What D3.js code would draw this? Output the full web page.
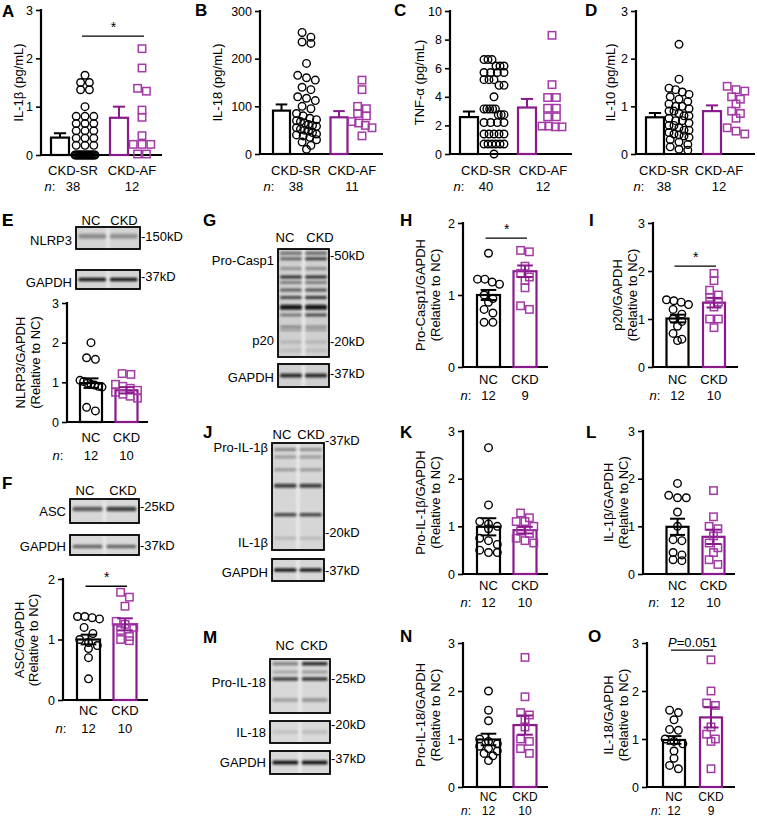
<!DOCTYPE html>
<html><head><meta charset="utf-8">
<script src="https://cdn.jsdelivr.net/npm/d3@7"></script>
<style>body{margin:0;background:#fff}svg{display:block}text{font-family:"Liberation Sans",Arial,sans-serif;fill:#000}</style>
</head><body><svg id="c" width="757" height="819"></svg>
<script>
// ---------- DATA ----------
const catsPatients = ["CKD-SR", "CKD-AF"];
const catsMice = ["NC", "CKD"];

// A: IL-1β (pg/mL)
const A_SR = [1.65,1.5,1.5,1.35,1.35,1.0,0.8,0.8,0.8,0.65,0.65,0.65,0.5,0.5,0.5,0.35,0.35,0.35,0.2,0.2,0.2,0,0,0,0,0,0,0,0,0,0,0,0,0,0,0,0,0];
const A_AF = [2.2,1.8,1.38,1.32,0.93,0.78,0.4,0.22,0.22,0.22,0.02,0.02];
const A_mean = [0.36, 0.77], A_sem = [0.09, 0.23], A_n = [38, 12];
// B: IL-18 (pg/mL)
const B_SR = [255,245,235,232,190,165,160,155,140,135,120,117,112,100,95,85,80,75,72,70,68,65,62,60,58,55,52,50,48,45,42,40,38,35,30,25,18,10];
const B_AF = [155,135,100,95,85,80,68,65,60,55,38];
const B_mean = [91, 77], B_sem = [13, 13], B_n = [38, 11];
// C: TNF-α (pg/mL)
const C_SR = [6.6,6.6,6.6,6.15,6.15,6.15,5.7,5.7,5.7,5.7,5.2,5.2,5.2,4.8,4.8,4.0,3.15,3.15,3.15,3.15,3.15,2.75,2.75,2.75,2.2,2.2,2.2,2.2,1.4,1.4,1.4,1.4,1.4,0.7,0.7,0.7,0.7,0.7,0.7,0];
const C_AF = [8.3,4.85,3.95,3.95,3.2,3.2,2.6,2.6,1.95,1.95,1.9,1.9];
const C_mean = [2.58, 3.25], C_sem = [0.39, 0.6], C_n = [40, 12];
// D: IL-10 (pg/mL)
const D_SR = [2.3,1.57,1.38,1.35,1.3,1.25,1.2,1.15,1.1,1.05,1.0,1.0,0.95,0.9,0.9,0.85,0.8,0.8,0.75,0.7,0.7,0.65,0.6,0.6,0.55,0.5,0.5,0.45,0.42,0.4,0.38,0.35,0.3,0.25,0.2,0.15,0.1,0.08];
const D_AF = [1.42,1.35,1.32,1.2,1.15,1.05,0.9,0.85,0.75,0.55,0.48,0.42];
const D_mean = [0.77, 0.9], D_sem = [0.09, 0.12], D_n = [38, 12];
// E: NLRP3/GAPDH
const E_NC = [2.0,1.62,1.58,1.05,1.02,0.98,0.95,0.93,0.9,0.88,0.37,0.28];
const E_CKD = [1.22,1.2,0.95,0.9,0.85,0.8,0.75,0.7,0.65,0.6];
const E_mean = [0.98, 0.8], E_sem = [0.12, 0.08], E_n = [12, 10];
// F: ASC/GAPDH
const F_NC = [1.38,1.38,1.36,1.34,1.2,1.1,1.0,0.95,0.9,0.85,0.7,0.35];
const F_CKD = [1.78,1.7,1.55,1.3,1.25,1.2,1.15,1.05,1.0,0.98];
const F_mean = [1.0, 1.25], F_sem = [0.08, 0.1], F_n = [12, 10];
// H: Pro-Casp1/GAPDH
const H_NC = [1.58,1.22,1.22,1.18,1.15,1.0,0.95,0.9,0.8,0.75,0.62,0.62];
const H_CKD = [1.62,1.6,1.4,1.3,1.25,1.2,1.1,0.85,0.8];
const H_mean = [1.0, 1.33], H_sem = [0.07, 0.08], H_n = [12, 9];
// I: p20/GAPDH
const I_NC = [1.4,1.38,1.35,1.3,1.2,1.1,1.0,0.95,0.85,0.7,0.58,0.55];
const I_CKD = [1.95,1.8,1.6,1.5,1.45,1.35,1.25,1.0,1.0,0.82];
const I_mean = [1.01, 1.34], I_sem = [0.08, 0.1], I_n = [12, 10];
// K: Pro-IL-1β/GAPDH
const K_NC = [2.65,1.45,1.1,1.05,1.0,0.95,0.75,0.7,0.62,0.5,0.45,0.45];
const K_CKD = [1.28,1.18,1.1,1.1,1.0,0.9,0.85,0.75,0.7,0.65];
const K_mean = [0.99, 0.92], K_sem = [0.18, 0.07], K_n = [12, 10];
// L: IL-1β/GAPDH
const L_NC = [1.9,1.65,1.6,1.6,1.3,1.0,0.72,0.7,0.45,0.4,0.3,0.28];
const L_CKD = [1.75,1.2,1.0,0.95,0.8,0.65,0.55,0.45,0.3,0.2];
const L_mean = [0.99, 0.78], L_sem = [0.17, 0.15], L_n = [12, 10];
// N: Pro-IL-18/GAPDH
const N_NC = [2.0,1.6,1.38,1.0,0.95,0.9,0.85,0.8,0.75,0.7,0.65,0.55];
const N_CKD = [2.7,1.88,1.55,1.5,1.4,1.25,1.0,0.95,0.8,0.7];
const N_mean = [0.99, 1.29], N_sem = [0.12, 0.2], N_n = [12, 10];
// O: IL-18/GAPDH
const O_NC = [1.6,1.55,1.4,1.2,1.18,1.0,0.95,0.9,0.75,0.6,0.45,0.38];
const O_CKD = [2.65,2.0,1.75,1.7,1.25,1.1,1.0,0.95,0.38];
const O_mean = [0.98, 1.45], O_sem = [0.08, 0.21], O_n = [12, 9];

const ticks3 = [0,1,2,3], ticks2 = [0,1,2], ticks300 = [0,100,200,300], ticks10 = [0,2,4,6,8,10];

// ---------- DRAW ----------
const svg = d3.select("#c");
const defs = svg.append("defs");
defs.append("filter").attr("id","bl").attr("x","-30%").attr("y","-100%").attr("width","160%").attr("height","300%")
  .append("feGaussianBlur").attr("stdDeviation",1.0);
const PB = "#8a1a8c", PP = "#a33aa6";
const FF = "'Liberation Sans', Arial, sans-serif";

function swarm(vals, y, cx, d, maxW){
  const s = vals.map(v=>({v, py:y(v)})).sort((a,b)=>a.py-b.py);
  const rows=[]; let cur=null;
  s.forEach(p=>{ if(!cur || p.py-cur.start > d*0.85){cur={start:p.py, pts:[]}; rows.push(cur);} cur.pts.push(p); });
  const out=[];
  rows.forEach(r=>{ const k=r.pts.length; const sp = k>1 ? Math.min(d*1.1, maxW/(k-1)) : 0;
    r.pts.forEach((p,i)=>out.push({x:cx+(i-(k-1)/2)*sp, y:p.py})); });
  return out;
}

function drawPanel(p){
  const L = p.L;
  const fs = L.fs || 13;
  const y = d3.scaleLinear().domain([0,p.max]).range([L.y0, L.y1]);
  const x = d3.scalePoint().domain(p.cats).range(L.c);
  const g = svg.append("g");
  const colors = ["#000", PB];
  const ax = d3.axisLeft(y).tickValues(p.ticks).tickSize(5).tickSizeOuter(0).tickPadding(3).tickFormat(d3.format("d"));
  const ag = g.append("g").attr("transform",`translate(${L.ax},0)`).call(ax);
  ag.select(".domain").attr("stroke-width",2.2).attr("d",`M0,${L.y0+1}V${L.y1-1}`);
  ag.selectAll(".tick line").attr("stroke-width",1.6);
  ag.selectAll(".tick text").attr("font-size",12.5).attr("font-family",FF).attr("fill","#000");
  g.append("line").attr("x1",L.ax-1).attr("x2",L.end).attr("y1",L.y0).attr("y2",L.y0).attr("stroke","#000").attr("stroke-width",2.2);
  const bw = L.bw;
  const side = p.style==="side";
  p.cats.forEach((c,i)=>{
    const cx = x(c);
    g.append("rect").attr("x",cx-bw/2).attr("y",y(p.mean[i])).attr("width",bw).attr("height",L.y0-y(p.mean[i]))
      .attr("fill","none").attr("stroke",colors[i]).attr("stroke-width",2.2);
  });
  const drawErr = (c,i)=>{
    const cx = x(c), top = y(p.mean[i]+p.sem[i]), bot = side ? y(p.mean[i]) : y(p.mean[i]-p.sem[i]);
    const cw = bw*0.34;
    g.append("line").attr("x1",cx).attr("x2",cx).attr("y1",top).attr("y2",bot).attr("stroke",colors[i]).attr("stroke-width",2);
    g.append("line").attr("x1",cx-cw).attr("x2",cx+cw).attr("y1",top).attr("y2",top).attr("stroke",colors[i]).attr("stroke-width",2);
    if(!side) g.append("line").attr("x1",cx-cw).attr("x2",cx+cw).attr("y1",bot).attr("y2",bot).attr("stroke",colors[i]).attr("stroke-width",2);
  };
  if(side) p.cats.forEach(drawErr);
  const dm = 8;
  p.cats.forEach((c,i)=>{
    const cx = x(c) + (side ? L.off[i] : 0);
    const pts = swarm(p.vals[i], y, cx, dm, L.sw);
    if(i===0){
      g.selectAll(null).data(pts).join("circle").attr("cx",d=>d.x).attr("cy",d=>d.y).attr("r",3.8)
        .attr("fill","none").attr("stroke","#000").attr("stroke-width",1.4);
    } else {
      g.selectAll(null).data(pts).join("rect").attr("x",d=>d.x-3.7).attr("y",d=>d.y-3.7).attr("width",7.4).attr("height",7.4)
        .attr("fill","none").attr("stroke",PP).attr("stroke-width",1.5);
    }
  });
  if(!side) p.cats.forEach(drawErr);
  p.cats.forEach((c,i)=>{
    const lx = side ? L.lab[i] : x(c);
    g.append("text").attr("x",lx).attr("y",L.catY).attr("text-anchor","middle").attr("dominant-baseline","central").attr("font-size",fs).text(c);
    g.append("text").attr("x",lx).attr("y",L.nY).attr("text-anchor","middle").attr("dominant-baseline","central").attr("font-size",fs).text(p.n[i]);
  });
  const nt = g.append("text").attr("x",L.nX).attr("y",L.nY).attr("text-anchor","middle").attr("dominant-baseline","central").attr("font-size",fs);
  nt.append("tspan").attr("font-style","italic").text("n");
  nt.append("tspan").text(":");
  const ym = L.ylY !== undefined ? L.ylY : (L.y0+L.y1)/2;
  p.ylab.forEach((t,k)=>{
    g.append("text").attr("transform",`translate(${L.ylX[k]},${ym}) rotate(-90)`).attr("text-anchor","middle")
      .attr("dominant-baseline","central").attr("font-size",13).text(t);
  });
  g.append("text").attr("x",L.letter[0]).attr("y",L.letter[1]).attr("font-size",17).attr("font-weight","bold")
    .attr("dominant-baseline","central").text(p.id);
  if(p.sig){
    const x1 = x(p.cats[0]) + (side?L.off[0]:0), x2 = x(p.cats[1]) + (side?L.off[1]:0);
    const sy = y(p.sig.v);
    g.append("line").attr("x1",x1-3).attr("x2",x2+2).attr("y1",sy).attr("y2",sy).attr("stroke","#000").attr("stroke-width",1.3);
    if(p.sig.t==="*"){
      g.append("text").attr("x",(x1+x2)/2).attr("y",sy-4).attr("text-anchor","middle").attr("font-size",14).text("*");
    } else {
      const t = g.append("text").attr("x",(x1+x2)/2).attr("y",sy-8).attr("text-anchor","middle").attr("dominant-baseline","central").attr("font-size",13);
      t.append("tspan").attr("font-style","italic").text("P");
      t.append("tspan").text(p.sig.t);
    }
  }
}

const panels = [
 {id:"A", cats:catsPatients, vals:[A_SR,A_AF], mean:A_mean, sem:A_sem, n:A_n, max:3, ticks:ticks3, style:"side",
  ylab:["IL-1β (pg/mL)"], sig:{v:2.46,t:"*"},
  L:{ax:41,end:162,y0:155,y1:10,c:[60,119],bw:18,off:[25,23],sw:20,lab:[73,132],catY:170,nY:186,nX:50,ylX:[18],letter:[2,11]}},
 {id:"B", cats:catsPatients, vals:[B_SR,B_AF], mean:B_mean, sem:B_sem, n:B_n, max:300, ticks:ticks300, style:"side",
  ylab:["IL-18 (pg/mL)"],
  L:{ax:260,end:383,y0:154,y1:11,c:[281.5,339],bw:17,off:[25,23],sw:20,lab:[296,352],catY:170,nY:186,nX:269,ylX:[217],letter:[195,10]}},
 {id:"C", cats:catsPatients, vals:[C_SR,C_AF], mean:C_mean, sem:C_sem, n:C_n, max:10, ticks:ticks10, style:"side",
  ylab:["TNF-α (pg/mL)"],
  L:{ax:450,end:572,y0:154,y1:11,c:[469,527],bw:18,off:[25,25],sw:20,lab:[486,543],catY:170,nY:186,nX:459,ylX:[419],letter:[394,10]}},
 {id:"D", cats:catsPatients, vals:[D_SR,D_AF], mean:D_mean, sem:D_sem, n:D_n, max:3, ticks:ticks3, style:"side",
  ylab:["IL-10 (pg/mL)"],
  L:{ax:636,end:755,y0:154,y1:11,c:[655,712],bw:18,off:[24,24],sw:20,lab:[664,719],catY:170,nY:186,nX:639,ylX:[610],letter:[585,10]}},
 {id:"E", cats:catsMice, vals:[E_NC,E_CKD], mean:E_mean, sem:E_sem, n:E_n, max:3, ticks:ticks3, style:"over",
  ylab:["NLRP3/GAPDH","(Relative to NC)"],
  L:{ax:67,end:148,y0:422,y1:303,c:[91,126.5],bw:22,sw:22,catY:437,nY:455,nX:58,ylX:[20,35],letter:[2,220]}},
 {id:"F", cats:catsMice, vals:[F_NC,F_CKD], mean:F_mean, sem:F_sem, n:F_n, max:2, ticks:ticks2, style:"over",
  ylab:["ASC/GAPDH","(Relative to NC)"], sig:{v:1.88,t:"*"},
  L:{ax:63,end:148,y0:700,y1:579,c:[88.5,125],bw:23,sw:22,catY:710,nY:728,nX:61,ylX:[19,33],ylY:640,letter:[2,483]}},
 {id:"H", cats:catsMice, vals:[H_NC,H_CKD], mean:H_mean, sem:H_sem, n:H_n, max:2, ticks:ticks2, style:"over",
  ylab:["Pro-Casp1/GAPDH","(Relative to NC)"], sig:{v:1.79,t:"*"},
  L:{ax:463,end:548,y0:367,y1:223,c:[488.5,525],bw:23,sw:22,catY:379,nY:395,nX:466,ylX:[420,435],letter:[400,220]}},
 {id:"I", cats:catsMice, vals:[I_NC,I_CKD], mean:I_mean, sem:I_sem, n:I_n, max:3, ticks:ticks3, style:"over",
  ylab:["p20/GAPDH","(Relative to NC)"], sig:{v:2.1,t:"*"},
  L:{ax:653,end:738,y0:367,y1:223,c:[677.5,714],bw:22,sw:22,catY:379,nY:395,nX:655,ylX:[617,632],letter:[589,220]}},
 {id:"K", cats:catsMice, vals:[K_NC,K_CKD], mean:K_mean, sem:K_sem, n:K_n, max:3, ticks:ticks3, style:"over",
  ylab:["Pro-IL-1β/GAPDH","(Relative to NC)"],
  L:{ax:463,end:548,y0:574,y1:431,c:[488.5,525],bw:23,sw:22,catY:585,nY:602,nX:466,ylX:[420,435],letter:[400,432]}},
 {id:"L", cats:catsMice, vals:[L_NC,L_CKD], mean:L_mean, sem:L_sem, n:L_n, max:3, ticks:ticks3, style:"over",
  ylab:["IL-1β/GAPDH","(Relative to NC)"],
  L:{ax:643,end:735,y0:574,y1:431,c:[677.5,713.5],bw:22,sw:22,catY:585,nY:602,nX:654,ylX:[608,623],letter:[586,432]}},
 {id:"N", cats:catsMice, vals:[N_NC,N_CKD], mean:N_mean, sem:N_sem, n:N_n, max:3, ticks:ticks3, style:"over",
  ylab:["Pro-IL-18/GAPDH","(Relative to NC)"],
  L:{ax:463,end:548,y0:787,y1:643,c:[488.5,525],bw:23,sw:22,catY:797,nY:811,fs:12,nX:466,ylX:[420,435],letter:[400,636]}},
 {id:"O", cats:catsMice, vals:[O_NC,O_CKD], mean:O_mean, sem:O_sem, n:O_n, max:3, ticks:ticks3, style:"over",
  ylab:["IL-18/GAPDH","(Relative to NC)"], sig:{v:2.85,t:"=0.051"},
  L:{ax:647,end:735,y0:787,y1:643,c:[674,711],bw:22,sw:22,catY:797,nY:811,fs:12,nX:656,ylX:[608,623],letter:[588,636]}}
];
panels.forEach(drawPanel);

// ---------- BLOTS ----------
// band: f = vertical position (fraction of strip), d = [NC, CKD] darkness, t = thickness px
const blots = [
 {id:"E", letter:[2,220], x:76, w:64, laneLab:[91,124], laneY:225, bg:"#d4d4d4", strips:[
   {name:"NLRP3", y:227, h:22, nameY:240, mk:"150kD", mkY:236, bands:[{f:0.42,d:[0.35,0.32],t:5}]},
   {name:"GAPDH", y:270, h:19, nameY:282, mk:"37kD", mkY:276, bands:[{f:0.5,d:[0.95,0.95],t:3.5}]}]},
 {id:"F", letter:null, x:70, w:69, laneLab:[85,123], laneY:495, bg:"#d8d8d8", strips:[
   {name:"ASC", y:499, h:24, nameY:511, mk:"25kD", mkY:506, bands:[{f:0.42,d:[0.6,0.75],t:4.5}]},
   {name:"GAPDH", y:535, h:20, nameY:546, mk:"37kD", mkY:545, bands:[{f:0.58,d:[0.55,0.55],t:3.5}]}]},
 {id:"G", letter:[203,220], x:278, w:51, laneLab:[285,320], laneY:242, bg:"#cfcfcf", strips:[
   {name:"Pro-Casp1", y:249, h:108, nameY:260, mk:"50kD", mkY:255, extra:[{t:"p20",y:340},{mk:"20kD",y:341}],
    bands:[{f:0.04,d:[0.5,0.55],t:3},{f:0.09,d:[0.55,0.75],t:3},{f:0.18,d:[0.3,0.35],t:3},{f:0.26,d:[0.85,0.85],t:3},
           {f:0.31,d:[0.5,0.5],t:2.5},{f:0.38,d:[0.6,0.65],t:3},{f:0.45,d:[0.7,0.8],t:3},{f:0.54,d:[0.95,0.95],t:5},
           {f:0.61,d:[0.45,0.7],t:3},{f:0.72,d:[0.4,0.35],t:2.5},{f:0.75,d:[0.3,0.3],t:2},{f:0.86,d:[0.15,0.15],t:3},{f:0.94,d:[0.1,0.1],t:3}]},
   {name:"GAPDH", y:364, h:23, nameY:377, mk:"37kD", mkY:373, bands:[{f:0.5,d:[0.85,0.85],t:4}]}]},
 {id:"J", letter:[203,432], x:272, w:52, laneLab:[282,311], laneY:439, bg:"#d6d6d6", strips:[
   {name:"Pro-IL-1β", y:443, h:107, nameY:447, mk:"37kD", mkY:440, extra:[{t:"IL-1β",y:542},{mk:"20kD",y:532}],
    bands:[{f:0.06,d:[0.4,0.35],t:3},{f:0.13,d:[0.3,0.3],t:3},{f:0.25,d:[0.3,0.3],t:3},{f:0.4,d:[0.75,0.75],t:4},
           {f:0.67,d:[0.7,0.7],t:3.5},{f:0.89,d:[0.15,0.15],t:3}]},
   {name:"GAPDH", y:559, h:22, nameY:572, mk:"37kD", mkY:570, bands:[{f:0.5,d:[0.95,0.95],t:3.5}]}]},
 {id:"M", letter:[203,637], x:270, w:60, laneLab:[285,314], laneY:650, bg:"#d8d8d8", strips:[
   {name:"Pro-IL-18", y:659, h:54, nameY:682, mk:"25kD", mkY:678,
    bands:[{f:0.09,d:[0.4,0.85],t:3.5},{f:0.24,d:[0.25,0.3],t:3},{f:0.37,d:[0.75,0.8],t:3.5},{f:0.76,d:[0.25,0.3],t:4}]},
   {name:"IL-18", y:721, h:22, nameY:732, mk:"20kD", mkY:724, bands:[{f:0.5,d:[0.1,0.12],t:4}]},
   {name:"GAPDH", y:751, h:23, nameY:762, mk:"37kD", mkY:758, bands:[{f:0.5,d:[0.95,0.95],t:4}]}]}
];

blots.forEach(b=>{
  const g = svg.append("g");
  const lane = d3.scaleBand().domain(catsMice).range([b.x, b.x+b.w]).paddingInner(0.12).paddingOuter(0.08);
  if(b.letter) g.append("text").attr("x",b.letter[0]).attr("y",b.letter[1]).attr("font-size",17).attr("font-weight","bold").attr("dominant-baseline","central").text(b.id);
  catsMice.forEach((c,i)=>g.append("text").attr("x",b.laneLab[i]).attr("y",b.laneY).attr("text-anchor","middle").attr("font-size",13).text(c));
  b.strips.forEach((s,si)=>{
    const cid = `clip${b.id}${si}`;
    g.append("clipPath").attr("id",cid).append("rect").attr("x",b.x).attr("y",s.y).attr("width",b.w).attr("height",s.h);
    const sg = g.append("g").attr("clip-path",`url(#${cid})`);
    sg.append("rect").attr("x",b.x).attr("y",s.y).attr("width",b.w).attr("height",s.h).attr("fill",b.bg);
    sg.append("rect").attr("x",b.x+b.w/2-2).attr("y",s.y).attr("width",4).attr("height",s.h).attr("fill","#e6e6e6").attr("filter","url(#bl)");
    s.bands.forEach(bd=>{
      catsMice.forEach((c,i)=>{
        sg.append("rect").attr("x",lane(c)).attr("y",s.y+bd.f*s.h-bd.t/2).attr("width",lane.bandwidth()).attr("height",bd.t)
          .attr("rx",1.5).attr("fill","#111").attr("opacity",bd.d[i]).attr("filter","url(#bl)");
      });
    });
    g.append("rect").attr("x",b.x).attr("y",s.y).attr("width",b.w).attr("height",s.h).attr("fill","none").attr("stroke","#000").attr("stroke-width",1.8);
    g.append("text").attr("x",b.x-4).attr("y",s.nameY).attr("text-anchor","end").attr("dominant-baseline","central").attr("font-size",13).text(s.name);
    g.append("text").attr("x",b.x+b.w+1).attr("y",s.mkY).attr("dominant-baseline","central").attr("font-size",13).text("-"+s.mk);
    (s.extra||[]).forEach(e=>{
      if(e.t) g.append("text").attr("x",b.x-4).attr("y",e.y).attr("text-anchor","end").attr("dominant-baseline","central").attr("font-size",13).text(e.t);
      if(e.mk) g.append("text").attr("x",b.x+b.w+1).attr("y",e.y).attr("dominant-baseline","central").attr("font-size",13).text("-"+e.mk);
    });
  });
});
</script>
</body></html>
